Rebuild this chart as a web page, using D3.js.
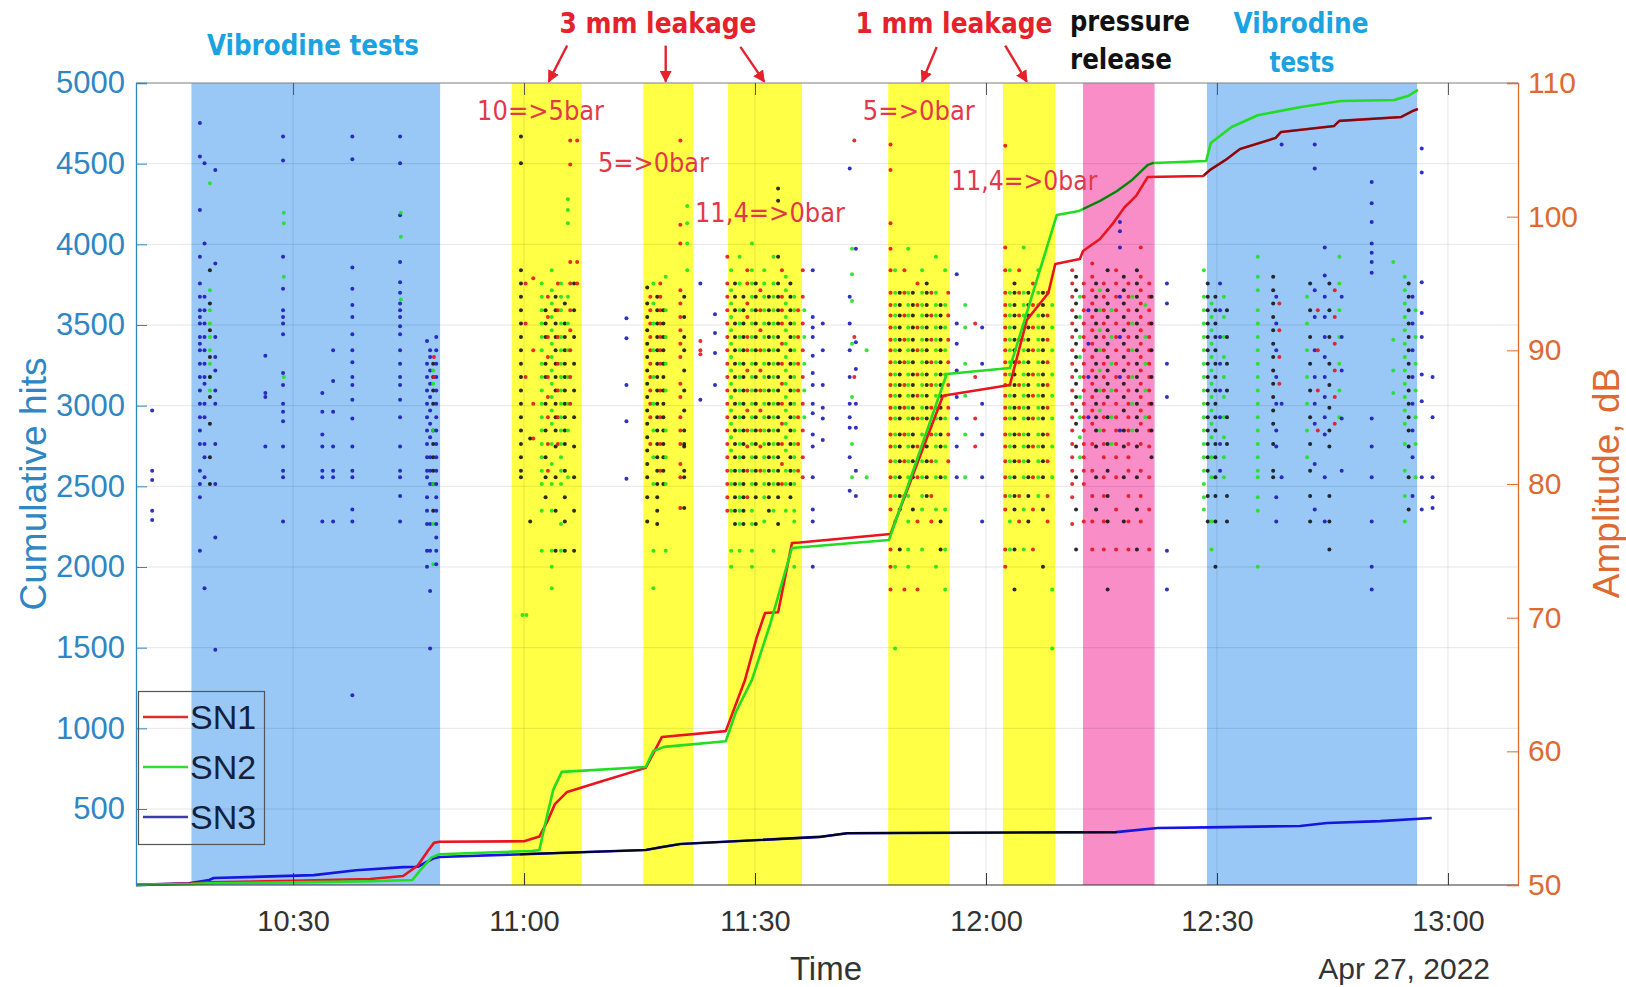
<!DOCTYPE html>
<html><head><meta charset="utf-8">
<script src="https://cdn.jsdelivr.net/npm/d3@7"></script>
<style>body{margin:0;background:#fff}svg{display:block}</style>
</head><body>
<svg id="c" width="1626" height="987"></svg>
<script>
// ---------- DATA (time in minutes after 10:00, Apr 27 2022) ----------
const baseDate = new Date(2022, 3, 27, 10, 0, 0);
const timeDomainMin = [9.6, 189.1];
const hitsDomain = [29, 5000];
const dbDomain = [50, 110];
const hitsTicks = [500, 1000, 1500, 2000, 2500, 3000, 3500, 4000, 4500, 5000];
const dbTicks = [50, 60, 70, 80, 90, 100, 110];
const timeTicksMin = [30, 60, 90, 120, 150, 180];

const seriesNames = ["SN1", "SN2", "SN3"];
const sn1Hits = [[9.6,30],[16.8,38],[19.0,45],[30,55],[40,66],[44.3,85],[46.2,150],[47.5,240],[48.3,290],[49.0,297],[60.0,300],[62.0,330],[63.0,420],[64.0,530],[65.6,606],[70.0,670],[75.8,755],[77.9,946],[86.2,983],[88.7,1300],[90.2,1560],[91.3,1715],[93.0,1720],[94.8,2149],[95.8,2152],[107.6,2205],[114.4,3060],[115.0,3066],[123.1,3128],[125.3,3531],[128.1,3698],[129.0,3878],[132.2,3909],[132.6,3959],[134.8,4033],[136.5,4130],[138.0,4230],[139.5,4300],[141.0,4417],[148.2,4424],[149.1,4461],[151.3,4529],[153.0,4591],[157.6,4659],[158.3,4696],[165.2,4733],[165.9,4765],[173.9,4789],[175.4,4826],[176.1,4839]];
const sn2Hits = [[9.6,30],[16.8,35],[19.0,40],[30,45],[40,52],[45.5,60],[46.5,120],[48.0,200],[49.0,220],[61.0,240],[62.0,246],[62.8,420],[63.8,620],[64.9,730],[75.8,760],[76.8,860],[78.2,885],[86.2,920],[87.5,1100],[89.6,1300],[92.0,1650],[94.8,2118],[107.4,2167],[114.9,3196],[123.1,3234],[129.2,4182],[132.1,4207],[134.8,4269],[137.0,4330],[139.0,4400],[141.0,4492],[141.7,4504],[148.6,4517],[149.2,4628],[151.9,4727],[155.3,4800],[160.9,4851],[166.1,4888],[173.0,4895],[174.8,4919],[176.1,4957]];
const sn3Hits = [[9.6,30],[16.5,40],[19.1,60],[19.7,72],[32.7,90],[38.2,120],[44.3,140],[46.2,142],[48.3,195],[49.0,203],[59.9,220],[75.8,246],[78.0,265],[80.3,283],[98.4,327],[102.0,350],[136.9,357],[142.3,382],[148.8,386],[160.8,395],[164.3,413],[171.2,425],[177.9,444]];

// dark overlay sections seen on the cumulative curves
const darkOverlays = [["SN3", 59.5, 137.0], ["SN2", 132.6, 141.8], ["SN1", 148.3, 176.5]];

// shaded test periods
const bands = [
  {from:16.8, to:49.1, kind:"vib"},
  {from:58.4, to:67.5, kind:"leak"},
  {from:75.5, to:82.0, kind:"leak"},
  {from:86.5, to:96.1, kind:"leak"},
  {from:107.3, to:115.3, kind:"leak"},
  {from:122.2, to:129.0, kind:"leak"},
  {from:132.6, to:141.9, kind:"rel"},
  {from:148.7, to:176.0, kind:"vib"}
];

// AE hits: [time min, sensor (1=SN1 red, 2=SN2 green, 3=SN3 blue, 0=dark), amplitudes dB]
const hitColumns = [
 [11.7,3,"85.5 81 80.3 78 77.3"],
 [17.9,3,"107 104.5 100.5 97 95 94 93 92.5 92 91 90.5 90 89 88 87 86 85 84 83 81 80 79 75"],
 [18.5,3,"104 98 94 93 92 91 90 89 88 87.5 86 85 83 82 80.5 72.2"],
 [19.2,2,"102.5 94.5 93 92 91 90 89 88 87"],
 [19.2,0,"96 93.5 91.5 89.5 88 86.5 84.5 82 80"],
 [19.9,3,"103.5 96.5 91 89.5 88.5 87 86 83 80 76 67.6"],
 [26.4,3,"89.6 86.8 86.5 82.8"],
 [28.7,3,"106 104.2 97 94.6 93 92.5 92 91.2 88.3 87.4 86 85.4 84.7 82.8 81 80.5 77.2"],
 [28.8,2,"100.3 99.5 95.5 88"],
 [33.8,3,"86.8 85.4 83.7 82.8 81 80.5 77.2"],
 [35.2,3,"90 87.7 85.4 82.8 81 80.5 77.2"],
 [37.7,3,"106 104.3 96.2 94.6 93.4 92.5 91.2 90 89.1 88 87.4 86.3 84.9 82.8 81 80.5 78.1 77.2 64.2"],
 [43.9,3,"106 104 100.1 96.6 95.1 94.3 93.5 93 92.5 91.8 91.2 90 89 88 87.4 86.3 85 82.8 81 80.5 79.1 77.2"],
 [44.0,2,"100.3 98.5 93.8"],
 [47.4,3,"90.7 89 88 87 86 85 84 83 82 81 80.5 79 78 77 75 73.8"],
 [47.8,3,"90 89.5 88.5 87.5 86.5 85.5 84.5 83.5 82 81 80 77 75 72 67.7"],
 [48.2,0,"89 88 87 86 84 83 82 81 80 78"],
 [48.2,2,"88.5 87.5 84 80 77 74"],
 [48.6,3,"91 90 89 88 87 86 85 84 83 82 81 80 79 78 77 76 75 74"],
 [48.3,1,"89.5 88"],
 [59.6,0,"106 104 96 95 94 93 92 91 90 89 88 87 86 85 84 83 82 81 80.5"],
 [59.8,2,"70.2"],[60.3,2,"70.2"],
 [60.2,1,"95 92 88"],
 [60.8,0,"83.4 77.2"],
 [61.2,1,"95.4 90 86 83.4"],
 [62.3,2,"95 94 93 92 91 90 89 88 87 86 85 84 83 82 81 80 78 75"],
 [62.8,0,"93 92 91 89 88 86 84 82 80.5 79"],
 [63.1,1,"94 92.5 91 89.5 88 86.5 85 83 81"],
 [63.6,2,"96 94.5 93.5 92.5 91.5 90.5 89.5 88.5 87.5 86.5 85.5 84.5 83 81.5 80 78 75 73.8 72.2"],
 [64.1,0,"94 93 92 91 90 89 88 87 86 85 84 82.8 80.5 78 75"],
 [64.4,1,"95 93 91 89 87 85 83"],
 [64.8,2,"95 94 93 92 91 90 89 88 87 86 85 84 83 82 81 80 77 75"],
 [65.3,0,"93.5 92 91 90 89 88 87 86 85 84 83 81 79 77.2 75"],
 [65.7,2,"101.3 100.5 99.5 94 92 90 88 86 84 80.5"],
 [66.0,1,"105.7 103.9 96.6 95 93 91.5 90 88 86"],
 [66.5,0,"95 93 91 89 87 85 82.8 80.5 78 75"],
 [66.9,1,"105.7 96.6 95"],
 [73.3,3,"92.4 90.9 87.4 84.7 80.4"],
 [76.0,0,"94.7 93.5 92.5 91.5 90.5 89.5 88.5 87.5 86.5 85.5 84.5 83.5 82.5 81.5 80.5 79 77.2"],
 [76.4,1,"94 93 92 91 90 89 88 87 86 85 83"],
 [76.8,2,"95 93.5 92 90 88 86 84 82 80 75 72.2"],
 [77.3,0,"94 93 92 91 90 89 88 87 86 85 84 83 82 81 80 79 78 77"],
 [77.7,1,"95 94 93 92 91 90 89 87 85 83 81"],
 [78.1,0,"93 92 91 90 89 88 87 86 85 84 83 82 81 80"],
 [78.4,2,"95.5 93 91 89 87 84 82 80 75"],
 [80.3,1,"105.7 99.4 98 94.5 93.5 92.5 91.5 90.5 89.5 87.5 86.5 85 84 83 81.5 80.5 78.2"],
 [80.8,0,"94 92.5 91 90 88.5 87 85.5 84 83 82.8 81 80.5 78.2"],
 [81.2,2,"100.8 99.5 98 96"],
 [82.9,1,"90.7 90 89.7"],
 [82.9,3,"95 86.3"],
 [84.8,3,"92.7 91.3 89.8 87.4"],
 [86.4,1,"97 95 94 93 92 91 90 89 88 87 86 85 84 83 82 81 80 79 78"],
 [86.9,2,"96 94.5 93.5 92.5 91.5 90.5 89.5 88.5 87.5 86.5 85.5 84.5 83.5 82.5 81 80 78 75 73.8"],
 [87.4,0,"95 94 93 92 91 90 89 88 87 86 85 84 83 82 81 80 79 78 77"],
 [88.0,2,"97 95 93 92 91 90 89 88 87 86 85 84 83 82 81 80 79 78 77 75"],
 [88.5,0,"94 93 92 91 90 89 88 87 86 85 84 83 82 81 80 79 78 77"],
 [89.0,1,"96 95 93.5 92.5 91 90 88.5 87 85.5 84 82.8 81 79"],
 [89.6,2,"98 96 95 94 93 92 91 90 89 88 87 86 85 84 83 82 81 80 78 77 75 73.8"],
 [90.1,0,"95 94 93 92 91 90 89 88 87 86 85 84 83 82 81 80 79 77"],
 [90.7,1,"94.5 93 91.5 90 88.5 87 85.5 84 82.8 81"],
 [91.2,2,"96 95 94 93 92 91 90 89 88 87 86 85 84 83 82 81 80 79 77.2"],
 [91.8,0,"94 93 92 91 90 89 88 87 86 85 84 83 82 81 80 79 78"],
 [92.4,2,"97 95 94 93 92 91 90 89 88 87 86 85 84 83 82 81 80 78 75"],
 [93.0,0,"102.1 101.2 97 95 94 93 92 91 90 89 88 87 86 85 84 83 82 81 80 79 77"],
 [93.5,1,"96 94 93 92 90.5 89 87.5 86 84.5 83 81.5 80"],
 [94.0,2,"95.5 94.5 93.5 92.5 91.5 90.5 89.5 88.5 87.5 86.5 85.5 84.5 83.5 82.5 81 80 78"],
 [94.6,0,"95 94 93 92 91 90 89 88 87 86 85 84 83 82 81 80 79"],
 [95.1,2,"94 93 92 91 90 89 88 87 86 85 84 83 82 81 80 78 77.2 73.8"],
 [95.6,1,"93 91 89 87 85 83 81"],
 [96.2,1,"96 94 92 90 88 86 84 82 80.5"],
 [96.4,2,"93 91 89 87 85"],
 [97.5,3,"96 92.5 91.7 91 89.6 88.3 87.4 86 85.3 83.7 82.8 80.5 78.1 77.2 73.8"],
 [98.8,3,"92 90 87.4 85.7 84.9 83.3"],
 [102.3,3,"103.6 94 92 90 88 86 85 84.2 82 79.5"],
 [102.6,2,"97.6 95.7 93.7 90.5 86.5 83 80.5"],
 [102.9,1,"105.7 91 88"],
 [103.1,3,"97.6 90.6 88.6 86 84.2 81 79.1"],
 [104.5,2,"90 80.5"],
 [107.6,1,"105.4 103.5 99.5 97.6 96 94.3 93.4 92.6 91.7 90.8 90 89.1 88.2 87.4 86.6 85.7 84.9 83.7 82.8 81.7 80.5 79.1 78.1 75.1 73.8 72.1"],
 [108.2,2,"96 94.3 93.4 92.6 91.7 90.8 90 89.1 88.2 87.4 86.6 85.7 84.9 83.7 82.8 81.7 80.5 79.1 77.2 73.8 67.7"],
 [108.8,0,"94.3 93.4 92.6 91.7 90.8 90 89.1 88.2 87.4 86.6 85.7 84.9 83.7 82.8 81.7 80.5 79.1 78.1 75.1"],
 [109.4,1,"96 94.3 92.6 90.8 89.1 87.4 85.7 83.7 81.7 79.1 72.1"],
 [109.9,2,"97.6 94.3 93.4 92.6 91.7 90.8 90 89.1 88.2 87.4 86.6 85.7 84.9 83.7 82.8 81.7 80.5 79.1 77.2 75.1 73.8"],
 [110.5,0,"94.3 93.4 92.6 91.7 90.8 90 89.1 88.2 87.4 86.6 85.7 84.9 83.7 82.8 81.7 80.5 78.1"],
 [111.1,1,"95 93.4 91.7 90 88.2 86.6 84.9 82.8 80.5 77.2 72.1"],
 [111.7,2,"96 94.3 93.4 92.6 91.7 90.8 90 89.1 88.2 87.4 86.6 85.7 84.9 83.7 82.8 81.7 80.5 79.1 78.1 75.1"],
 [112.3,0,"95 94.3 93.4 92.6 91.7 90.8 90 89.1 88.2 87.4 86.6 85.7 84.9 83.7 82.8 81.7 80.5 79.1"],
 [112.9,1,"94.3 92.6 90.8 89.1 87.4 85.7 83.7 81.7 79.1 77.2"],
 [113.5,2,"97 94.3 93.4 92.6 91.7 90.8 90 89.1 88.2 87.4 86.6 85.7 84.9 83.7 82.8 81.7 80.5 78.1 73.8"],
 [114.1,0,"93.4 92.6 91.7 90.8 90 89.1 88.2 87.4 86.6 85.7 84.9 83.7 82.8 80.5 77.2 75.1"],
 [114.7,2,"96 93.4 91.7 90 88.2 86.6 84.9 82.8 80.5 78.1 75.1 72.1"],
 [115.1,1,"94.3 92.6 90.8 89.1 87.4 85.7 83.7 81.7"],
 [116.2,3,"95.7 92 90.5 88.5 86.5 84.9 82.8 80.5"],
 [117.3,2,"93.4 91.7 89 86.6 83.7 80.5"],
 [118.6,1,"92 88 84.9 82.8"],
 [119.5,3,"91.7 89 86 83.7 80.5 77.2"],
 [122.5,1,"105.3 97.7 96 94.3 93.4 92.6 91.7 90.8 90 89.1 88.2 87.4 86.6 85.7 84.9 83.7 82.8 81.7 80.5 79.1 78.1 75.1 73.8"],
 [123.1,2,"96 94.3 93.4 92.6 91.7 90.8 90 89.1 88.2 87.4 86.6 85.7 84.9 83.7 82.8 81.7 80.5 79.1 77.2 75.1"],
 [123.7,0,"95 94.3 93.4 92.6 91.7 90.8 90 89.1 88.2 87.4 86.6 85.7 84.9 83.7 82.8 81.7 80.5 79.1 78.1 75.1 72.1"],
 [124.3,1,"96 94.3 92.6 90.8 89.1 87.4 85.7 83.7 81.7 79.1 77.2"],
 [124.9,2,"97.7 94.3 93.4 92.6 91.7 90.8 90 89.1 88.2 87.4 86.6 85.7 84.9 83.7 82.8 81.7 80.5 78.1 75.1"],
 [125.5,0,"94.3 93.4 92.6 91.7 90.8 90 89.1 88.2 87.4 86.6 85.7 84.9 83.7 82.8 81.7 80.5 79.1 77.2"],
 [126.1,1,"95 93.4 91.7 90 88.2 86.6 84.9 82.8 80.5 78.1 75.1"],
 [126.8,2,"96 94.3 93.4 92.6 91.7 90.8 90 89.1 88.2 87.4 86.6 85.7 84.9 83.7 82.8 81.7 80.5 79.1"],
 [127.4,0,"94.3 93.4 92.6 91.7 90.8 90 89.1 88.2 87.4 86.6 85.7 84.9 83.7 82.8 81.7 80.5 78.1 73.8"],
 [128.0,1,"94.3 92.6 90.8 89.1 87.4 85.7 83.7 81.7 79.1 77.2"],
 [128.6,2,"93.4 91.7 90 88.2 86.6 84.9 82.8 80.5 72.1 67.7"],
 [131.2,1,"96 95 94 93 92 91 90 89 88 87 86 85 84 83 82 81 80 79 77"],
 [131.7,0,"95.5 94.5 93.5 92.5 91.5 90.5 89.5 88.5 87.5 86.5 85.5 84.5 82.8 80.5 78.1 75.1"],
 [132.2,2,"94 92.5 91 89.5 88 86.5 85 83.5 82"],
 [132.7,1,"95 94 93 92 91 90 89 88 87 86 85 84 83 82 81 80 77.2"],
 [133.3,3,"93 90.5 88 85"],
 [133.8,1,"96.5 95.5 94.5 93.5 92.5 91.5 90.5 89.5 88.5 87.5 86.5 85.5 84.5 83 81 79.1 77.2 75.1"],
 [134.3,0,"95 94 93 92 91 90 89 88 87 86 85 84 82.8 80.5 78.1"],
 [134.8,2,"94.5 93 91.5 90 88.5 87 85.5 84"],
 [135.3,1,"95 94 93 92 91 90 89 88 87 86 85 84 83 82 80.5 79.1 77.2 75.1"],
 [135.8,0,"96 94.5 93.5 92.5 91.5 90.5 89.5 88.5 87.5 86.5 85 83 81 79.1 77.2 72.1"],
 [136.3,2,"93 91 89 87 85 83"],
 [136.9,1,"96 95 94 93 92 91 90 89 88 87 86 85 84 83 82 80.5 78.1 75.1"],
 [137.4,3,"99.6 98.9 97.7 94 91 88 84"],
 [137.9,0,"95.5 94.5 93.5 92.5 91.5 90.5 89.5 88.5 87.5 86.5 85.5 84 82.8 80.5 77.2"],
 [138.5,1,"95 94 93 92 91 90 89 88 87 86 85 84 83 82 81 79.1 77.2 75.1"],
 [139.0,2,"94 92 90 88 86 84"],
 [139.6,0,"96 95 94 93 92 91 90 89 88 87 86 85 84 82.8 80.5 78.1 75.1"],
 [140.1,1,"97.7 95.5 94.5 93.5 92.5 91.5 90.5 89.5 88.5 87.5 86.5 85.5 84.5 83 81 79.1 77.2"],
 [140.7,2,"93.4 91 89 87 85"],
 [141.2,1,"95 94 93 92 91 90 89 88 87 86 85 84 82.8 80.5 78.1 75.1"],
 [141.5,0,"94 92 90 88 86 84 82"],
 [143.5,3,"95 93.5 89 86.5 75 72.1"],
 [148.3,2,"96 94 93 92 91 90 89 88 87 86 85 84 83 82 81 80 79 78.1"],
 [148.8,0,"95 94 93 92 91 90 89 88 87 86 85 84 83 82 81 79.1 77.2"],
 [149.3,2,"93.5 92.5 91.5 90.5 89.5 88.5 87.5 86.5 85.5 84.5 83.5 82 80.5 77.2 75.1"],
 [149.8,0,"94 93 92 91 90 89 88 87 86 85 84 83 82 80.5 79.1 77.2 73.8"],
 [150.4,3,"95 93 91 89 87 85 83 81"],
 [150.9,2,"94 92.5 91 89.5 88 86.5 85 83.5 82 80.5"],
 [151.3,0,"93 91 89 87 85 83 79.1 77.2"],
 [155.3,2,"97 95.5 94.5 93 92 91 90 89 88 87 86 85 84 83 82 81 80.5 79 78 73.8"],
 [157.3,0,"95.5 94.5 93.5 92.5 91.5 90.5 89.5 88.5 87.5 86.5 85.5 84.5 83 81 80.5"],
 [157.7,3,"94 92 90 88 86 84 82.8 79 77.2"],
 [158.1,1,"93.5 91.5 89.5 87.5"],
 [158.4,3,"105.4 86 80.5"],
 [161.7,2,"94 92 90 88 86 84 82"],
 [162.1,0,"95 93 91 89 87 85 83 81 79.1 77.2"],
 [162.7,3,"105.4 103.6 94.5 92.5 90 88 86 84.5 81.5 78.1"],
 [163.1,1,"93 90 87 84"],
 [164.0,3,"97.7 95.6 94 92.5 91 89.5 88 86.5 85 83.7 80.5 77.2"],
 [164.6,0,"95 93 91 89 87.4 85.7 84 82.8 79.1 77.2 75.1"],
 [165.3,1,"94.5 92.5 90.5 88.5 86.5 84.5"],
 [165.9,2,"97 95 93 91 89 87 85"],
 [166.2,3,"94 91 88.5 84.9 81"],
 [170.1,3,"102.6 101 99.6 98 97.3 96.6 95.8 84.9 82.8 80.5 77.2 73.8 72.1"],
 [172.9,2,"96.6 90.8 88.5 86.8"],
 [174.4,2,"95.5 94.5 93.5 92.5 91.5 90.5 89.5 88.5 87.5 86.5 85.5 84.5 83 81 79.1 77.2"],
 [174.9,0,"95 94 93 92 91 90 89 88 87 86 85 84 82.8 80.5 78.1"],
 [175.4,3,"94 92 90 88 86 84 82 79.1"],
 [175.8,2,"93 91 89 87 85 83 80.5"],
 [176.6,3,"105.1 103.3 95.1 92.8 91 88.2 86.2 80.5 78.1"],
 [178.0,3,"88 85 80.5 79 78.2"]
];

// annotations
const topLabels = [
  {text:"Vibrodine tests", x:313, y:45, color:"#1aa3e0", w:212},
  {text:"3 mm leakage", x:658, y:23, color:"#e5222b", w:197},
  {text:"1 mm leakage", x:954, y:23, color:"#e5222b", w:197},
  {text:"pressure", x:1130, y:21, color:"#111111", w:120},
  {text:"release", x:1121, y:59, color:"#111111", w:102},
  {text:"Vibrodine", x:1301, y:23, color:"#1aa3e0", w:135},
  {text:"tests", x:1302, y:62, color:"#1aa3e0", w:65}
];
const arrows = [ // tail (t, dB) -> tip (t, dB)
  [65.6,112.8, 63.2,110.1],[78.4,112.8, 78.4,110.1],[88.1,112.7, 91.2,110.1],
  [113.6,112.7, 111.7,110.1],[122.5,112.8, 125.3,110.1]
];
const pressureLabels = [
  {text:"10=>5bar", t:53.9, db:107.9, w:127},
  {text:"5=>0bar", t:69.6, db:104.0, w:111},
  {text:"11,4=>0bar", t:82.2, db:100.3, w:150},
  {text:"5=>0bar", t:104.0, db:107.9, w:112},
  {text:"11,4=>0bar", t:115.5, db:102.7, w:146}
];

// ---------- DRAWING ----------
const T = m => new Date(baseDate.getTime() + m * 60000);
const M = {left:136, right:1518, top:83, bottom:885};
const x = d3.scaleTime().domain(timeDomainMin.map(T)).range([M.left, M.right]);
const yL = d3.scaleLinear().domain(hitsDomain).range([M.bottom, M.top]);
const yR = d3.scaleLinear().domain(dbDomain).range([M.bottom, M.top]);
const svg = d3.select("#c");
const FONT = "'Liberation Sans', Arial, sans-serif";
const LEFTC = "#2f86c3", RIGHTC = "#de6a32";

const bandFill = {vib:"#99c8f6", leak:"#ffff45", rel:"#f98dc8"};
svg.append("g").selectAll("rect").data(bands).join("rect")
  .attr("x", d => x(T(d.from))).attr("width", d => x(T(d.to)) - x(T(d.from)))
  .attr("y", M.top).attr("height", M.bottom - M.top)
  .attr("fill", d => bandFill[d.kind]);

// grid
const grid = svg.append("g").attr("stroke", "#000").attr("stroke-opacity", 0.1).attr("stroke-width", 1);
grid.selectAll("line.v").data(timeTicksMin).join("line").attr("class","v")
  .attr("x1", d => x(T(d))).attr("x2", d => x(T(d))).attr("y1", M.top).attr("y2", M.bottom);
grid.selectAll("line.h").data(hitsTicks).join("line").attr("class","h")
  .attr("y1", d => yL(d)).attr("y2", d => yL(d)).attr("x1", M.left).attr("x2", M.right);

// hits scatter
const dotColor = {0:"#151515", 1:"#e3141c", 2:"#1ee21e", 3:"#1b1bb8"};
const dots = [];
hitColumns.forEach(([t, s, list]) => list.trim().split(/\s+/).forEach(a => dots.push({t, s, a:+a})));
svg.append("g").selectAll("circle").data(dots).join("circle")
  .attr("cx", d => x(T(d.t))).attr("cy", d => yR(d.a)).attr("r", 2.0)
  .attr("fill", d => dotColor[d.s]).attr("fill-opacity", 0.9);

// cumulative lines
const lineColor = {SN1:"#e8141e", SN2:"#22dd22", SN3:"#1616e0"};
const legendColor = {SN1:"#d9302e", SN2:"#2ee02e", SN3:"#3c3ca8"};
const seriesData = {SN1:sn1Hits, SN2:sn2Hits, SN3:sn3Hits};
const line = d3.line().x(d => x(T(d[0]))).y(d => yL(d[1]));
const defs = svg.append("defs");
const lg = svg.append("g").attr("fill", "none").attr("stroke-width", 2.6).attr("stroke-linejoin", "round");
["SN3", "SN1", "SN2"].forEach(n => lg.append("path").attr("d", line(seriesData[n])).attr("stroke", lineColor[n]));
darkOverlays.forEach(([n, a, b], i) => {
  defs.append("clipPath").attr("id", "ov" + i).append("rect")
    .attr("x", x(T(a))).attr("width", x(T(b)) - x(T(a))).attr("y", 0).attr("height", 987);
  lg.append("path").attr("d", line(seriesData[n])).attr("stroke", "#000")
    .attr("stroke-opacity", n === "SN3" ? 0.85 : 0.45).attr("stroke-width", 2.2).attr("clip-path", `url(#ov${i})`);
});

// axes frame
svg.append("line").attr("x1", M.left).attr("x2", M.right).attr("y1", M.top).attr("y2", M.top).attr("stroke", "#8a8a8a").attr("stroke-width", 1.2);
svg.append("line").attr("x1", M.left).attr("x2", M.right).attr("y1", M.bottom).attr("y2", M.bottom).attr("stroke", "#333").attr("stroke-width", 1.2);

// x axis (bottom) with inward ticks
const xAxis = d3.axisBottom(x).tickValues(timeTicksMin.map(T)).tickFormat(d3.timeFormat("%H:%M")).tickSize(-12).tickPadding(25);
const gx = svg.append("g").attr("transform", `translate(0,${M.bottom})`).call(xAxis);
gx.select(".domain").remove();
gx.selectAll("line").attr("stroke", "#333");
gx.selectAll("text").attr("font-family", FONT).attr("font-size", 29).attr("fill", "#333");
const xTop = d3.axisTop(x).tickValues(timeTicksMin.map(T)).tickFormat("").tickSize(-12);
const gxt = svg.append("g").attr("transform", `translate(0,${M.top})`).call(xTop);
gxt.select(".domain").remove(); gxt.selectAll("line").attr("stroke", "#555");

// left axis
const gl = svg.append("g").attr("transform", `translate(${M.left},0)`)
  .call(d3.axisLeft(yL).tickValues(hitsTicks).tickFormat(d3.format("d")).tickSize(-11).tickPadding(11));
gl.select(".domain").attr("stroke", LEFTC).attr("stroke-width", 1.3);
gl.selectAll("line").attr("stroke", LEFTC);
gl.selectAll("text").attr("font-family", FONT).attr("font-size", 31).attr("fill", LEFTC);

// right axis
const gr = svg.append("g").attr("transform", `translate(${M.right},0)`)
  .call(d3.axisRight(yR).tickValues(dbTicks).tickFormat(d3.format("d")).tickSize(-11).tickPadding(10));
gr.select(".domain").attr("stroke", RIGHTC).attr("stroke-width", 1.3);
gr.selectAll("line").attr("stroke", RIGHTC);
gr.selectAll("text").attr("font-family", FONT).attr("font-size", 30).attr("fill", RIGHTC);

// axis titles
svg.append("text").attr("transform", "translate(33,484) rotate(-90)").attr("text-anchor", "middle")
  .attr("dominant-baseline", "central").attr("font-family", FONT).attr("font-size", 37).attr("fill", LEFTC).text("Cumulative hits");
svg.append("text").attr("transform", "translate(1606,483) rotate(-90)").attr("text-anchor", "middle")
  .attr("dominant-baseline", "central").attr("font-family", FONT).attr("font-size", 37).attr("fill", RIGHTC).text("Amplitude, dB");
svg.append("text").attr("x", 826).attr("y", 968).attr("text-anchor", "middle").attr("dominant-baseline", "central")
  .attr("font-family", FONT).attr("font-size", 33).attr("fill", "#333").text("Time");
svg.append("text").attr("x", 1490).attr("y", 968).attr("text-anchor", "end").attr("dominant-baseline", "central")
  .attr("font-family", FONT).attr("font-size", 30).attr("fill", "#333").text("Apr 27, 2022");

// legend
const leg = svg.append("g");
leg.append("rect").attr("x", 138.5).attr("y", 691.5).attr("width", 126).attr("height", 153)
  .attr("fill", "none").attr("stroke", "#555").attr("stroke-width", 1.2);
seriesNames.forEach((n, i) => {
  const yy = 717 + i * 50;
  leg.append("line").attr("x1", 143).attr("x2", 188).attr("y1", yy).attr("y2", yy)
    .attr("stroke", legendColor[n]).attr("stroke-width", 2.6);
  leg.append("text").attr("x", 190).attr("y", yy).attr("dominant-baseline", "central")
    .attr("font-family", FONT).attr("font-size", 34).attr("fill", "#14213d").text(n);
});

// annotations
const ANN = "'DejaVu Sans Condensed','DejaVu Sans',sans-serif";
topLabels.forEach(d => {
  svg.append("text").attr("x", d.x).attr("y", d.y).attr("text-anchor", "middle").attr("dominant-baseline", "central")
    .attr("font-family", ANN).attr("font-weight", "bold").attr("font-size", 28).attr("fill", d.color)
    .attr("textLength", d.w).attr("lengthAdjust", "spacingAndGlyphs").text(d.text);
});
defs.append("marker").attr("id", "ah").attr("viewBox", "0 0 10 10").attr("refX", 9).attr("refY", 5)
  .attr("markerWidth", 5).attr("markerHeight", 5).attr("orient", "auto")
  .append("path").attr("d", "M0,0L10,5L0,10Z").attr("fill", "#e5222b");
svg.append("g").selectAll("line").data(arrows).join("line")
  .attr("x1", d => x(T(d[0]))).attr("y1", d => yR(d[1])).attr("x2", d => x(T(d[2]))).attr("y2", d => yR(d[3]))
  .attr("stroke", "#e5222b").attr("stroke-width", 2.4).attr("marker-end", "url(#ah)");
pressureLabels.forEach(d => {
  svg.append("text").attr("x", x(T(d.t))).attr("y", yR(d.db)).attr("dominant-baseline", "central")
    .attr("font-family", "'DejaVu Sans',sans-serif").attr("font-size", 26).attr("fill", "#e2394a")
    .attr("textLength", d.w).attr("lengthAdjust", "spacingAndGlyphs").text(d.text);
});
</script>
</body></html>
